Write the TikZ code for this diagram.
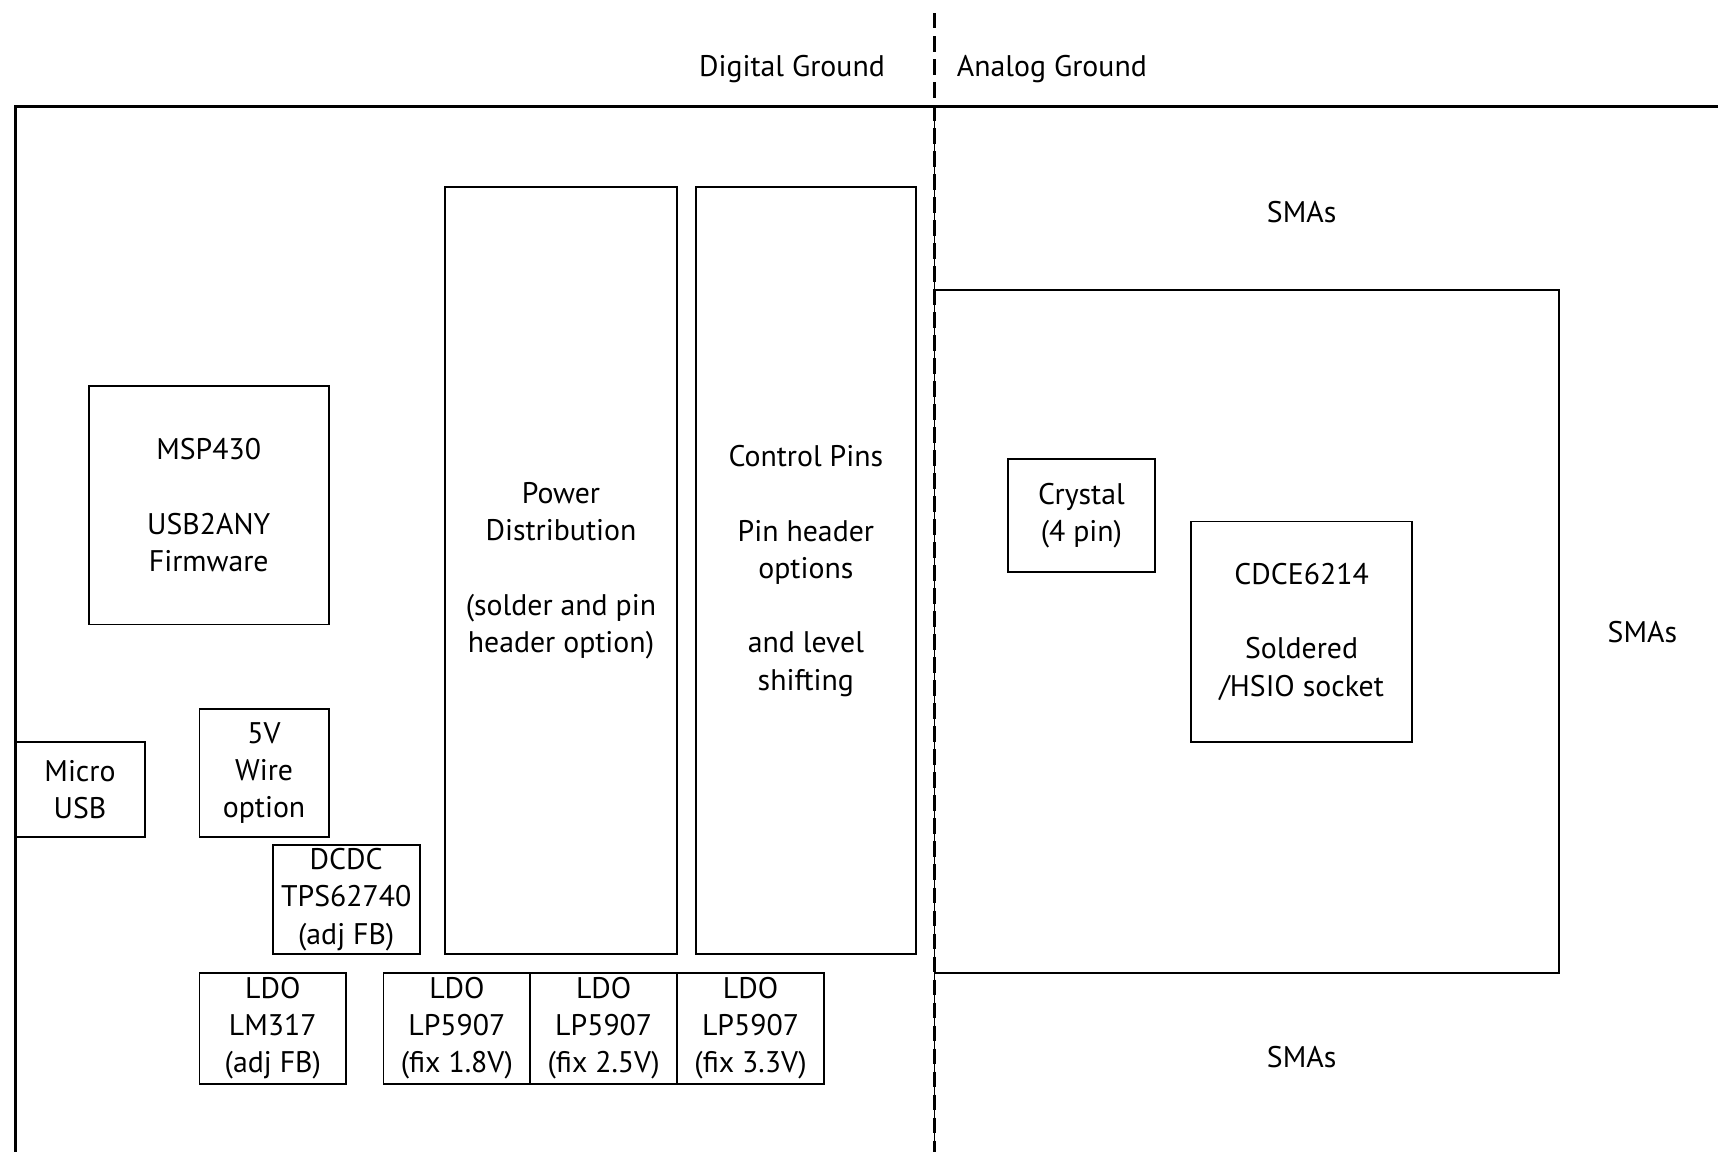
\documentclass[tikz,border=0pt]{standalone}
\usepackage{fontspec}
\setmainfont{PT Sans}
\usetikzlibrary{positioning}

\begin{document}
\begin{tikzpicture}[x=0.5pt, y=-0.5pt, font=\fontsize{13.6}{17}\selectfont]
    \tikzset{
        blk/.style={draw=black, line width=0.8pt, inner sep=0pt, align=center},
        board/.style={draw=black, line width=1.2pt},
        split/.style={draw=black, line width=1.1pt, dash pattern=on 7pt off 3.5pt},
        tag/.style={inner sep=0pt, align=center}
    }

    % name, left, top, right, bottom, text
    \newcommand{\blockbox}[6]{%
        \node[blk, minimum width={(#4-#2)*0.5pt}, minimum height={(#5-#3)*0.5pt}]
            (#1) at ({(#2+#4)/2},{(#3+#5)/2}) {#6};
    }

    \useasboundingbox (0,0) rectangle (1568,1051);

    % Board outline
    \coordinate (bTL) at (14,97);
    \coordinate (bTR) at (1568,97);
    \coordinate (bBL) at (14,1051);
    \draw[board] (bBL) -- (bTL) -- (bTR);

    % Ground split
    \coordinate (dTop) at (853,12);
    \coordinate (dIn) at (853,97);
    \coordinate (dBot) at (853,1051);
    \draw[draw=black, line width=0.8pt] (dIn) -- (dBot);
    \draw[split] (dTop) -- (dBot);
    \node[tag, anchor=base east] (digGnd) at (808,69.4) {Digital Ground};
    \node[tag, anchor=base west] (anaGnd) at (873,69.4) {Analog Ground};

    % Digital side
    \blockbox{msp}{81}{352}{300}{570}{MSP430\\[17pt]USB2ANY\\Firmware}
    \blockbox{pwr}{406}{171}{618}{871}{Power\\Distribution\\[17pt](solder and pin\\header option)}
    \blockbox{ctrl}{635}{171}{836}{871}{Control Pins\\[17pt]Pin header\\options\\[17pt]and level\\shifting}
    \blockbox{micro}{14}{677}{132}{764}{Micro\\USB}
    \blockbox{wire}{182}{647}{300}{764}{5V\\Wire\\option}
    \blockbox{dcdc}{249}{771}{383}{871}{DCDC\\TPS62740\\(adj FB)}

    % Regulators
    \blockbox{lm317}{182}{888}{316}{989}{LDO\\LM317\\(adj FB)}
    \blockbox{ldoA}{350}{888}{484}{989}{LDO\\LP5907\\(fix 1.8V)}
    \blockbox{ldoB}{484}{888}{618}{989}{LDO\\LP5907\\(fix 2.5V)}
    \blockbox{ldoC}{618}{888}{752}{989}{LDO\\LP5907\\(fix 3.3V)}

    % Analog side
    \blockbox{analog}{853}{265}{1423}{888}{}
    \blockbox{xtal}{920}{419}{1054}{522}{Crystal\\(4 pin)}
    \blockbox{cdce}{1087}{476}{1289}{677}{CDCE6214\\[17pt]Soldered\\/HSIO socket}

    \node[tag] (smaTop) at (1188,194) {SMAs};
    \node[tag] (smaRight) at (1499,577) {SMAs};
    \node[tag] (smaBot) at (1188,965) {SMAs};
\end{tikzpicture}
\end{document}
